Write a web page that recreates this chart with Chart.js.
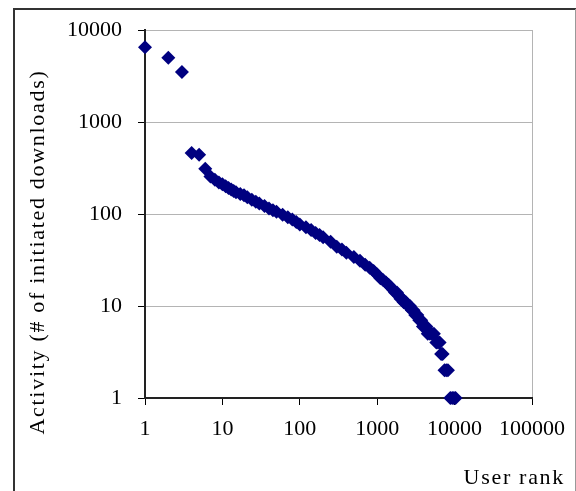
<!DOCTYPE html>
<html>
<head>
<meta charset="utf-8">
<script src="https://cdn.jsdelivr.net/npm/chart.js@4"></script>
<style>
  body { margin: 0; background: #fff; }
</style>
</head>
<body>
<canvas id="rankChart" width="576" height="491"></canvas>
<script>
// user rank vs activity
const userRank = [
  1, 2, 3, 4, 5, 6, 7, 8, 9, 10,
  11, 12, 13, 14, 15, 17, 19, 21, 24, 27,
  30, 35, 40, 45, 50, 60, 70, 80, 90, 100,
  120, 140, 160, 180, 200, 250, 300, 350, 400, 500,
  600, 700, 800, 900, 1000, 1100, 1200, 1300, 1400, 1500,
  1600, 1700, 1800, 1900, 2000, 2100, 2200, 2350, 2500, 2650,
  2800, 2950, 3100, 3300, 3500, 3700, 3900, 4100, 4300, 4500,
  4800, 5100, 5400, 5800, 6100, 6400, 6700, 7000, 7400, 7800,
  8200, 8800, 9300, 9800, 10300
];
const activity = [
  6500, 5000, 3500, 460, 440, 310, 255, 235, 220, 210,
  200, 192, 185, 178, 172, 165, 160, 152, 143, 136,
  130, 122, 115, 110, 106, 98, 92, 87, 82, 77,
  72, 67, 62, 59, 56, 50, 44, 41, 38, 34,
  31, 28, 26, 24, 22, 20, 19, 18, 17, 16,
  15, 14, 14, 13, 12, 12, 11, 11, 10, 10,
  9, 9, 8, 8, 7, 7, 6, 6, 6, 5,
  5, 5, 5, 4, 4, 4, 3, 3, 2, 2,
  2, 1, 1, 1, 1
];
const xTickValues = [1, 10, 100, 1000, 10000, 100000];
const yTickValues = [1, 10, 100, 1000, 10000];

const points = userRank.map((r, i) => ({ x: r, y: activity[i] }));

const serif = "'Liberation Serif', 'Times New Roman', serif";

// outer frame + spaced-out axis titles
const titleShift = { x: [33, 0], y: [0, 38] };
const framePlugin = {
  id: "frame",
  beforeDraw(chart) {
    const ctx = chart.ctx;
    ctx.save();
    ctx.fillStyle = "#fff";
    ctx.fillRect(0, 0, chart.width, chart.height);
    ctx.strokeStyle = "#333";
    ctx.lineWidth = 2;
    ctx.beginPath();
    ctx.moveTo(14, 491);
    ctx.lineTo(14, 9);
    ctx.lineTo(576, 9);
    ctx.stroke();
    ctx.strokeStyle = "#999";
    ctx.lineWidth = 1;
    ctx.beginPath();
    ctx.moveTo(575.5, 9);
    ctx.lineTo(575.5, 491);
    ctx.stroke();
    ctx.restore();

    Object.values(chart.scales).forEach((scale) => {
      if (scale._titleWrapped) return;
      const orig = scale.drawTitle;
      const shift = titleShift[scale.id];
      scale.drawTitle = function () {
        this.ctx.save();
        this.ctx.letterSpacing = "1.7px";
        this.ctx.translate(shift[0], shift[1]);
        orig.call(this);
        this.ctx.restore();
      };
      scale._titleWrapped = true;
    });
  },
};

const ctx = document.getElementById("rankChart").getContext("2d");

const myChart = new Chart(ctx, {
  type: "scatter",
  data: {
    datasets: [
      {
        data: points,
        pointStyle: "rectRot",
        pointRadius: 7,
        pointBackgroundColor: "#000080",
        pointBorderColor: "#000080",
        pointBorderWidth: 0,
        clip: false,
      },
    ],
  },
  options: {
    responsive: false,
    animation: false,
    layout: { padding: { top: 30, right: 38, bottom: 0, left: 0 } },
    plugins: {
      legend: { display: false },
      tooltip: { enabled: false },
    },
    scales: {
      x: {
        type: "logarithmic",
        min: 1,
        max: 100000,
        afterBuildTicks: (scale) => {
          scale.ticks = xTickValues.map((v) => ({ value: v }));
        },
        afterFit: (scale) => {
          scale.height = 93;
        },
        ticks: {
          autoSkip: false,
          maxRotation: 0,
          minRotation: 0,
          padding: 11,
          color: "#000",
          font: { family: serif, size: 22 },
          callback: (v) => String(v),
        },
        grid: {
          drawOnChartArea: true,
          color: (c) => (c.tick && c.tick.value === 100000 ? "#b4b4b4" : "rgba(0,0,0,0)"),
          tickColor: "#000",
          tickLength: 7,
          lineWidth: 1,
        },
        border: { color: "#222", width: 2 },
        title: {
          display: true,
          text: "User rank",
          align: "end",
          color: "#000",
          padding: { top: 0, bottom: 0 },
          font: { family: serif, size: 22 },
        },
      },
      y: {
        type: "logarithmic",
        min: 1,
        max: 10000,
        afterBuildTicks: (scale) => {
          scale.ticks = yTickValues.map((v) => ({ value: v }));
        },
        afterFit: (scale) => {
          scale.width = 145;
        },
        ticks: {
          padding: 16,
          color: "#000",
          font: { family: serif, size: 22 },
          callback: (v) => String(v),
        },
        grid: {
          color: "#b4b4b4",
          tickColor: "#000",
          tickLength: 7,
          lineWidth: 1,
        },
        border: { color: "#222", width: 2 },
        title: {
          display: true,
          text: "Activity (# of initiated downloads)",
          color: "#000",
          padding: { top: 25, bottom: 0 },
          font: { family: serif, size: 22 },
        },
      },
    },
  },
  plugins: [framePlugin],
});
</script>
</body>
</html>
